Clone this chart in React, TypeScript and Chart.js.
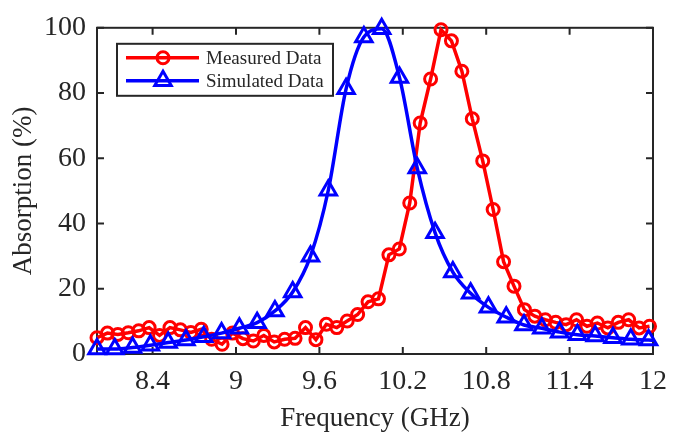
import React, { useEffect, useRef } from "react";
import { Chart, registerables } from "chart.js";

Chart.register(...registerables);

// ---- data ----
const measuredFreq = [
  8.0, 8.075, 8.15, 8.225, 8.3, 8.375, 8.45, 8.525, 8.6, 8.675, 8.75, 8.825, 8.9, 8.975,
  9.05, 9.125, 9.2, 9.275, 9.35, 9.425, 9.5, 9.575, 9.65, 9.725, 9.8, 9.875, 9.95, 10.025,
  10.1, 10.175, 10.25, 10.325, 10.4, 10.475, 10.55, 10.625, 10.7, 10.775, 10.85, 10.925,
  11.0, 11.075, 11.15, 11.225, 11.3, 11.375, 11.45, 11.525, 11.6, 11.675, 11.75, 11.825,
  11.9, 11.975,
];
const measuredAbs = [
  5.0, 6.4, 6.0, 6.5, 7.1, 8.1, 5.7, 8.1, 7.4, 6.6, 7.6, 4.5, 3.0, 6.4,
  4.7, 4.0, 5.7, 3.7, 4.5, 4.8, 8.1, 4.4, 9.1, 8.1, 10.1, 12.1, 16.0, 16.9,
  30.4, 32.2, 46.3, 70.8, 84.3, 99.4, 96.0, 86.7, 72.1, 59.2, 44.3, 28.3,
  20.8, 13.6, 11.6, 10.5, 9.7, 9.0, 10.5, 8.5, 9.5, 8.0, 9.7, 10.5,
  8.0, 8.5,
];
const simulatedFreq = [
  8.0, 8.128, 8.256, 8.384, 8.512, 8.64, 8.768, 8.896, 9.024, 9.152, 9.28, 9.408,
  9.536, 9.664, 9.792, 9.92, 10.048, 10.176, 10.304, 10.432, 10.56, 10.688, 10.816,
  10.944, 11.072, 11.2, 11.328, 11.456, 11.584, 11.712, 11.84, 11.968, 12.0,
];
const simulatedAbs = [
  1.5, 1.5, 2.0, 2.7, 3.5, 4.3, 5.3, 6.4, 7.9, 9.6, 13.2, 19.0,
  30.0, 50.2, 81.3, 97.2, 99.7, 84.8, 57.0, 37.2, 25.1, 18.6, 14.3,
  11.3, 8.9, 7.9, 6.7, 5.9, 5.5, 5.0, 4.5, 4.3, 4.2,
];
// last simulated sample is the curve end, not a marker
const simulatedMarked = simulatedFreq.map((_, i) => i < simulatedFreq.length - 1);

const xTickValues = [8.4, 9, 9.6, 10.2, 10.8, 11.4, 12];
const yTickValues = [0, 20, 40, 60, 80, 100];
const seriesLabels = ["Measured Data", "Simulated Data"];
const xTitle = "Frequency (GHz)";
const yTitle = "Absorption (%)";

// ---- style ----
const AXIS_COLOR = "#262626";
const FONT_FAMILY = "'Liberation Serif', 'Times New Roman', serif";
const RED = "#ff0000";
const BLUE = "#0000ff";
const TICK_LEN = 7;
const CIRCLE_R = 6;
const TRI_R = 9.5;
const MARKER_W = 3;

function drawTriangle(ctx: CanvasRenderingContext2D, x: number, y: number, r: number) {
  ctx.beginPath();
  ctx.moveTo(x, y - r);
  ctx.lineTo(x + 0.866 * r, y + 0.5 * r);
  ctx.lineTo(x - 0.866 * r, y + 0.5 * r);
  ctx.closePath();
  ctx.stroke();
}

const framePlugin = {
  id: "frame",
  beforeDatasetsDraw(chart: any) {
    const { ctx, chartArea: a, scales } = chart;
    ctx.save();
    ctx.strokeStyle = AXIS_COLOR;
    ctx.lineWidth = 2;
    ctx.strokeRect(a.left, a.top, a.right - a.left, a.bottom - a.top);
    ctx.beginPath();
    xTickValues.forEach((v) => {
      const px = scales.x.getPixelForValue(v);
      ctx.moveTo(px, a.bottom);
      ctx.lineTo(px, a.bottom - TICK_LEN);
      ctx.moveTo(px, a.top);
      ctx.lineTo(px, a.top + TICK_LEN);
    });
    yTickValues.forEach((v) => {
      const py = scales.y.getPixelForValue(v);
      ctx.moveTo(a.left, py);
      ctx.lineTo(a.left + TICK_LEN, py);
      ctx.moveTo(a.right, py);
      ctx.lineTo(a.right - TICK_LEN, py);
    });
    ctx.stroke();
    ctx.restore();
  },
};

const legendPlugin = {
  id: "boxLegend",
  afterDraw(chart: any) {
    const { ctx, chartArea: a } = chart;
    const bx = a.left + 20;
    const by = a.top + 16;
    const bw = 216;
    const bh = 52;
    ctx.save();
    ctx.fillStyle = "#ffffff";
    ctx.fillRect(bx, by, bw, bh);
    ctx.strokeStyle = AXIS_COLOR;
    ctx.lineWidth = 2;
    ctx.strokeRect(bx, by, bw, bh);
    const rows = [by + 14, by + 37];
    chart.data.datasets.forEach((ds: any, i: number) => {
      const y = rows[i];
      ctx.strokeStyle = ds.borderColor;
      ctx.lineWidth = ds.borderWidth;
      ctx.beginPath();
      ctx.moveTo(bx + 9, y);
      ctx.lineTo(bx + 82, y);
      ctx.stroke();
      ctx.lineWidth = MARKER_W;
      const mx = bx + 46;
      if (ds.pointStyle === "triangle") {
        drawTriangle(ctx, mx, y, TRI_R);
      } else {
        ctx.beginPath();
        ctx.arc(mx, y, CIRCLE_R, 0, Math.PI * 2);
        ctx.stroke();
      }
      ctx.fillStyle = AXIS_COLOR;
      ctx.font = `19px ${FONT_FAMILY}`;
      ctx.textBaseline = "middle";
      ctx.textAlign = "left";
      ctx.fillText(ds.label, bx + 89, y + 1);
    });
    ctx.restore();
  },
};

export default function App() {
  const canvasRef = useRef<HTMLCanvasElement | null>(null);

  useEffect(() => {
    if (!canvasRef.current) return;
    const measuredData = measuredFreq.map((x, i) => ({ x, y: measuredAbs[i] }));
    const simulatedData = simulatedFreq.map((x, i) => ({ x, y: simulatedAbs[i] }));
    const tickFont = { family: FONT_FAMILY, size: 28 };
    const titleFont = { family: FONT_FAMILY, size: 27 };
    const chart = new Chart(canvasRef.current, {
      type: "line",
      data: {
        datasets: [
          {
            label: seriesLabels[0],
            data: measuredData,
            borderColor: RED,
            borderWidth: 3.5,
            pointStyle: "circle",
            pointRadius: CIRCLE_R,
            pointBorderWidth: MARKER_W,
            pointBorderColor: RED,
            pointBackgroundColor: "rgba(0,0,0,0)",
            tension: 0,
            clip: false,
            order: 1,
          } as any,
          {
            label: seriesLabels[1],
            data: simulatedData,
            borderColor: BLUE,
            borderWidth: 3.5,
            pointStyle: "triangle",
            pointRadius: simulatedMarked.map((m) => (m ? TRI_R : 0)),
            pointBorderWidth: MARKER_W,
            pointBorderColor: BLUE,
            pointBackgroundColor: "rgba(0,0,0,0)",
            cubicInterpolationMode: "monotone",
            clip: false,
            order: 0,
          } as any,
        ],
      },
      options: {
        animation: false,
        responsive: false,
        devicePixelRatio: 1,
        layout: { padding: { top: 18, right: 16, left: 0, bottom: 0 } },
        plugins: {
          legend: { display: false },
          tooltip: { enabled: false },
        },
        scales: {
          x: {
            type: "linear",
            min: 8,
            max: 12,
            afterBuildTicks: (s: any) => {
              s.ticks = xTickValues.map((v) => ({ value: v }));
            },
            afterFit: (s: any) => {
              s.height = 85;
            },
            grid: { display: false, drawTicks: false },
            border: { display: false },
            ticks: {
              font: tickFont,
              color: AXIS_COLOR,
              padding: 11,
              maxRotation: 0,
              autoSkip: false,
              callback: (v: any) => String(v),
            },
            title: {
              display: true,
              text: xTitle,
              font: titleFont,
              color: AXIS_COLOR,
              padding: { top: 0, bottom: 4 },
            },
          },
          y: {
            type: "linear",
            min: 0,
            max: 100,
            afterBuildTicks: (s: any) => {
              s.ticks = yTickValues.map((v) => ({ value: v }));
            },
            afterFit: (s: any) => {
              s.width = 97;
            },
            grid: { display: false, drawTicks: false },
            border: { display: false },
            ticks: {
              font: tickFont,
              color: AXIS_COLOR,
              padding: 11,
              autoSkip: false,
              callback: (v: any) => String(v),
            },
            title: {
              display: true,
              text: yTitle,
              font: titleFont,
              color: AXIS_COLOR,
              padding: { top: 8, bottom: 0 },
            },
          },
        },
      } as any,
      plugins: [framePlugin, legendPlugin],
    });
    return () => chart.destroy();
  }, []);

  return (
    <div style={{ position: "absolute", left: 0, top: 0, width: 678, height: 439, background: "#fff" }}>
      <canvas ref={canvasRef} width={678} height={439} style={{ display: "block" }} />
    </div>
  );
}
